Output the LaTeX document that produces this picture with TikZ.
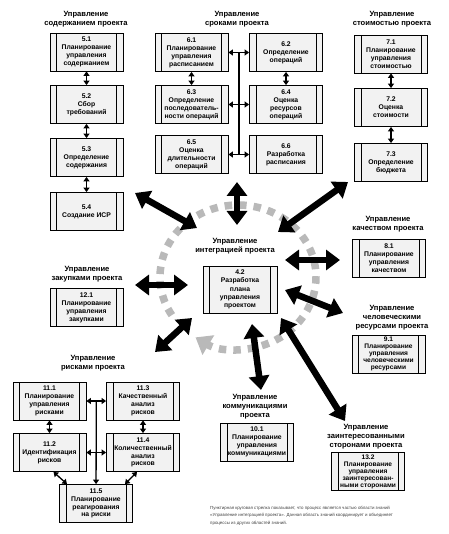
\documentclass[tikz,border=0pt]{standalone}
\usepackage{fontspec}
\setmainfont{Liberation Sans}
\usetikzlibrary{arrows.meta}

\begin{document}
\begin{tikzpicture}[x=1pt, y=-1pt,
  procbox/.style={draw, line width=0.8pt, fill=gray!10,
    minimum width=73pt, minimum height=38pt, inner sep=1pt,
    align=center, font=\fontsize{6.8}{7.9}\selectfont\bfseries,
    path picture={
      \draw[line width=0.6pt] ([xshift=6.5pt]path picture bounding box.north west)
        -- ([xshift=6.5pt]path picture bounding box.south west);
      \draw[line width=0.6pt] ([xshift=-6.5pt]path picture bounding box.north east)
        -- ([xshift=-6.5pt]path picture bounding box.south east);}},
  fiveline/.style={inner sep=0pt, font=\fontsize{6.6}{7}\selectfont\bfseries},
  areatitle/.style={align=center, inner sep=0pt,
    font=\fontsize{7.6}{9}\selectfont\bfseries},
  link/.style={line width=1.3pt,
    {Triangle[length=4.5pt,width=6pt]}-{Triangle[length=4.5pt,width=6pt]}},
  bigflow/.style={line width=6.5pt,
    {Triangle[length=14pt,width=20pt]}-{Triangle[length=14pt,width=20pt]}}]
\useasboundingbox (0,0) rectangle (448,534);

% scope management
\node[areatitle] (t5) at (86,19.5) {Управление\\содержанием проекта};
\node[procbox] (s51) at (86.5,52) {5.1\\Планирование\\управления\\содержанием};
\node[procbox] (s52) at (86.5,104.5) {5.2\\Сбор\\требований};
\node[procbox] (s53) at (86.5,157.5) {5.3\\Определение\\содержания};
\node[procbox] (s54) at (86.5,211.5) {5.4\\Создание ИСР};
\draw[link] (s51) -- (s52);
\draw[link] (s52) -- (s53);
\draw[link] (s53) -- (s54);

% schedule management
\node[areatitle] (t6) at (237,19.5) {Управление\\сроками проекта};
\node[procbox] (s61) at (191.5,52.5) {6.1\\Планирование\\управления\\расписанием};
\node[procbox] (s62) at (286,52.5) {6.2\\Определение\\операций};
\node[procbox] (s63) at (191.5,104.5) {6.3\\Определение\\последователь-\\ности операций};
\node[procbox] (s64) at (286,104.5) {6.4\\Оценка\\ресурсов\\операций};
\node[procbox] (s65) at (191.5,154.5) {6.5\\Оценка\\длительности\\операций};
\node[procbox] (s66) at (286,154.5) {6.6\\Разработка\\расписания};
\coordinate (bus6top) at (239,52.5);
\coordinate (bus6bot) at (239,154.5);
\draw[line width=1.3pt] (bus6top) -- (bus6bot);
\draw[link] (s61) -- (s62);
\draw[link] (s63) -- (s64);
\draw[link] (s65) -- (s66);
\draw[link] (s61) -- (s63);
\draw[link] (s62) -- (s64);

% cost management
\node[areatitle] (t7) at (392,19.5) {Управление\\стоимостью проекта};
\node[procbox] (s71) at (391,54) {7.1\\Планирование\\управления\\стоимостью};
\node[procbox] (s72) at (391,107.5) {7.2\\Оценка\\стоимости};
\node[procbox] (s73) at (391,162.5) {7.3\\Определение\\бюджета};
\draw[link] (s71) -- (s72);
\draw[link] (s72) -- (s73);

% integration management
\draw[gray!55, line width=7.5pt, dash pattern=on 7.5pt off 7pt,
  -{Triangle[length=15pt,width=22pt]}]
  (238,277) ++(148:78 and 72)
  arc[start angle=148, end angle=483, x radius=78, y radius=72];
\node[areatitle] (t4) at (235,246.5) {Управление\\интеграцией проекта};
\node[procbox, minimum width=74pt, minimum height=47pt,
  font=\fontsize{6.8}{8.4}\selectfont\bfseries] (s42) at (240,289.5)
  {4.2\\Разработка\\плана\\управления\\проектом};

% quality, resources
\node[areatitle] (t8) at (388,224) {Управление\\качеством проекта};
\node[procbox] (s81) at (389,258) {8.1\\Планирование\\управления\\качеством};
\node[areatitle] (t9) at (392,318) {Управление\\человеческими\\ресурсами проекта};
\node[procbox, fiveline] (s91) at (388.5,354)
  {9.1\\Планирование\\управления\\человеческими\\ресурсами};

% procurement
\node[areatitle] (t12) at (87,274) {Управление\\закупками проекта};
\node[procbox] (s121) at (86.5,307.5) {12.1\\Планирование\\управления\\закупками};

% risk management
\node[areatitle] (t11) at (93,363.5) {Управление\\рисками проекта};
\node[procbox] (s111) at (49.5,401) {11.1\\Планирование\\управления\\рисками};
\node[procbox] (s113) at (143,401) {11.3\\Качественный\\анализ\\рисков};
\node[procbox] (s112) at (49.5,452.5) {11.2\\Идентификация\\рисков};
\node[procbox] (s114) at (143,452.5) {11.4\\Количественный\\анализ\\рисков};
\node[procbox] (s115) at (96,503.5) {11.5\\Планирование\\реагирования\\на риски};
\coordinate (bus11) at (96.3,401);
\draw[line width=1.3pt, -{Triangle[length=4.5pt,width=6pt]}] (bus11) -- (s115);
\draw[link] (s111) -- (s113);
\draw[link] (s112) -- (s114);
\draw[link] (s111) -- (s112);
\draw[link] (s113) -- (s114);
\draw[link] ([xshift=4pt]s112.south) -- ([xshift=-29pt]s115.north);
\draw[link] ([xshift=-6pt]s114.south) -- ([xshift=29pt]s115.north);

% communications, stakeholders
\node[areatitle] (t10) at (255,407) {Управление\\коммуникациями\\проекта};
\node[procbox] (s101) at (257,442) {10.1\\Планирование\\управления\\коммуникациями};
\node[areatitle] (t13) at (366,437) {Управление\\заинтересованными\\сторонами проекта};
\node[procbox, fiveline] (s132) at (368,471.5)
  {13.2\\Планирование\\управления\\заинтересован-\\ными сторонами};

% arrows between integration and the other areas
\coordinate (c5) at (197,228);   \coordinate (e5) at (135,193);
\coordinate (c6) at (237,225);   \coordinate (e6) at (237,182);
\coordinate (c7) at (278,232);   \coordinate (e7) at (348,182);
\coordinate (c8) at (285,260);   \coordinate (e8) at (340,260);
\coordinate (c9) at (285,290);   \coordinate (e9) at (343,313);
\coordinate (c13) at (281,318);  \coordinate (e13) at (345,421);
\coordinate (c10) at (252,324);  \coordinate (e10) at (261,390);
\coordinate (c11) at (192,318);  \coordinate (e11) at (155,352);
\coordinate (c12) at (188,285);  \coordinate (e12) at (135,285);
\foreach \k in {5,6,7,8,9,10,11,12,13}
  \draw[bigflow] (c\k) -- (e\k);

\node[anchor=north west, align=left, inner sep=0pt, text=black!75,
  font=\fontsize{4.4}{7.4}\selectfont] (note) at (210,506)
  {Пунктирная круговая стрелка показывает, что процесс является частью области знаний\\
   «Управление интеграцией проекта». Данная область знаний координирует и объединяет\\
   процессы из других областей знаний.};
\end{tikzpicture}
\end{document}
